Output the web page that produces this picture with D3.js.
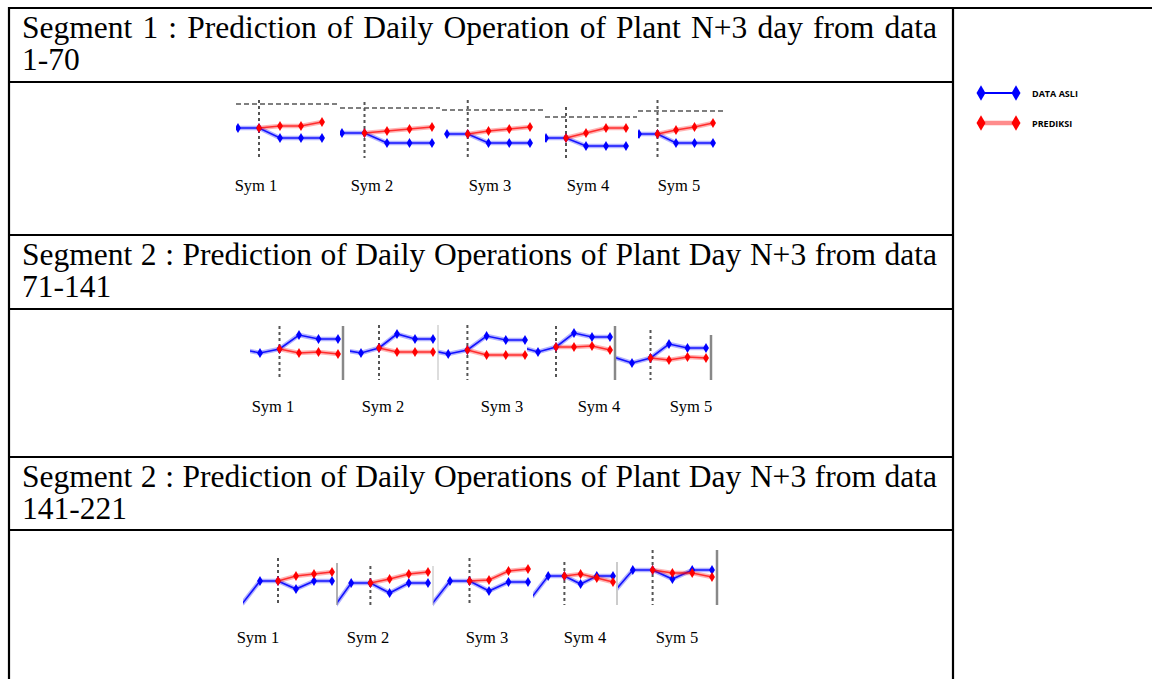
<!DOCTYPE html>
<html>
<head>
<meta charset="utf-8">
<script src="https://cdn.jsdelivr.net/npm/d3@7"></script>
<style>
  body { margin: 0; background: #fff; }
  svg { display: block; }
</style>
</head>
<body>
<div id="chart"></div>
<script>
// --- data ---
var segTitles = [
    "Segment 1 : Prediction of Daily Operation of Plant N+3 day from data",
    "Segment 2 : Prediction of Daily Operations of Plant Day N+3 from data",
    "Segment 2 : Prediction of Daily Operations of Plant Day N+3 from data"
]
var segRanges = ["1-70", "71-141", "141-221"]
var symLabels = ["Sym 1", "Sym 2", "Sym 3", "Sym 4", "Sym 5"]
var legendLabels = ["DATA ASLI", "PREDIKSI"]

// segment 1 : 5 points, prediction starts at index 1
var seg1Asli = [
    [16, 16, 6, 6, 6],
    [15, 15, 5, 5, 5],
    [16, 16, 7, 7, 7],
    [19, 19, 11, 11, 11],
    [17, 17, 8, 8, 8]
]
var seg1Prediksi = [
    [16, 18, 18, 22],
    [15, 17, 19, 21],
    [16, 19, 21, 23],
    [19, 24, 29, 29],
    [17, 21, 24, 28]
]
var seg1Batas = [40, 40, 40, 40, 40]

// segment 2 : 6 points (first one cut off), prediction starts at index 2
var seg2Asli = [
    [31, 27, 31, 45, 41, 41],
    [30, 27, 32, 46, 41, 41],
    [30, 26, 30, 44, 40, 40],
    [33, 28, 33, 47, 43, 43],
    [23, 17, 22, 36, 32, 32]
]
var seg2Prediksi = [
    [31, 27, 28, 26],
    [32, 28, 28, 28],
    [30, 25, 25, 25],
    [33, 33, 34, 30],
    [22, 20, 23, 22]
]

// segment 3
var seg3Asli = [
    [1, 24, 24, 16, 24, 24],
    [-5, 22, 22, 12, 22, 22],
    [-1, 24, 24, 14, 23, 23],
    [8, 29, 29, 21, 29, 29],
    [12, 35, 35, 26, 35, 35]
]
var seg3Prediksi = [
    [24, 29, 31, 33],
    [22, 26, 31, 33],
    [24, 25, 34, 36],
    [29, 31, 27, 23],
    [35, 32, 32, 28]
]

// --- layout ---
var width = 1152, height = 679
var colX = 953, leftX = 9
var titleX = 22, titleW = 915

var rows = [
    {top: 8, titleBottom: 82, bodyBottom: 235},
    {top: 235, titleBottom: 309, bodyBottom: 457},
    {top: 457, titleBottom: 530, bodyBottom: 700}
]

// per panel: x of first / last index, base y (value 0), clip left, dashed top
var panels = [
    {
        base: [144, 148, 150, 157, 151],
        xr: [[238, 322], [342, 432], [447, 530], [546, 626], [639, 713]],
        clip: [236, 340, 442, 545, 638],
        right: [337, 440, 543, 637, 725],
        vTop: [100, 102, 100, 107, 100], vBottom: 158,
        start: 1,
        labelX: [256, 372, 490, 588, 679], labelY: 191
    },
    {
        base: [380, 380, 380, 380, 380],
        xr: [[240.5, 338], [343, 433], [429, 525], [520, 610], [613.5, 706]],
        clip: [250, 350, 438, 527, 616],
        vTop: [326, 325, 325, 326, 330], vBottom: 380,
        start: 2,
        seps: [[343, 326, 2.5, "#888"], [438, 325, 1, "#bbb"], [615, 326, 2.5, "#888"], [711, 335, 2.5, "#888"]],
        labelX: [273, 383, 502, 599, 691], labelY: 412
    },
    {
        base: [605, 605, 605, 605, 605],
        xr: [[242, 332], [332, 428], [430.5, 528], [532, 613], [613, 712]],
        clip: [243, 337, 433, 533, 618],
        vTop: [558, 566, 558, 562, 550], vBottom: 605,
        start: 2,
        seps: [[337, 563, 1.5, "#999"], [433, 566, 1, "#bbb"], [617, 562, 1, "#999"], [717, 550, 2.5, "#888"]],
        labelX: [258, 368, 487, 585, 677], labelY: 643
    }
]

var asli = [seg1Asli, seg2Asli, seg3Asli]
var prediksi = [seg1Prediksi, seg2Prediksi, seg3Prediksi]

var blue = "#0000ff", red = "#ff0000"

var svg = d3.select("#chart").append("svg")
    .attr("width", width)
    .attr("height", height)

var defs = svg.append("defs")

// --- table ---
var grid = svg.append("g")
    .attr("stroke", "#000")
    .attr("stroke-width", 2.2)

grid.append("line").attr("x1", leftX - 1).attr("x2", width).attr("y1", 8).attr("y2", 8)
grid.append("line").attr("x1", leftX).attr("x2", leftX).attr("y1", 7).attr("y2", height)
grid.append("line").attr("x1", colX).attr("x2", colX).attr("y1", 7).attr("y2", height)

rows.forEach(function(r, i) {
    grid.append("line").attr("x1", leftX).attr("x2", colX).attr("y1", r.titleBottom).attr("y2", r.titleBottom)
    if (i < 2) grid.append("line").attr("x1", leftX).attr("x2", colX).attr("y1", r.bodyBottom).attr("y2", r.bodyBottom)

    // first line is justified to the cell width, by widening the word gaps
    var t1 = svg.append("text")
        .attr("x", titleX).attr("y", r.top + 30)
        .attr("font-family", "'Liberation Serif', 'Times New Roman', serif")
        .attr("font-size", 31.5)
        .text(segTitles[i])
    var gaps = segTitles[i].split(" ").length - 1
    var extra = (titleW - t1.node().getComputedTextLength()) / gaps
    t1.attr("word-spacing", extra)

    svg.append("text")
        .attr("x", titleX).attr("y", r.top + 62)
        .attr("font-family", "'Liberation Serif', 'Times New Roman', serif")
        .attr("font-size", 31.5)
        .text(segRanges[i])
})

function diamond(g, x, y, color, size) {
    g.append("path")
        .attr("d", d3.symbol().type(d3.symbolDiamond).size(size || 30))
        .attr("transform", "translate(" + x + "," + y + ")")
        .attr("fill", color)
}

function drawSeries(g, values, offset, x, y, color, cutFirst) {
    var line = d3.line()
        .x(function(d, i) { return x(i + offset) })
        .y(function(d) { return y(d) })

    g.append("path")
        .datum(values)
        .attr("d", line)
        .attr("fill", "none")
        .attr("stroke", color)
        .attr("stroke-opacity", 0.3)
        .attr("stroke-width", 4.5)
    g.append("path")
        .datum(values)
        .attr("d", line)
        .attr("fill", "none")
        .attr("stroke", color)
        .attr("stroke-opacity", color == red ? 0.75 : 0.9)
        .attr("stroke-width", 1.6)

    values.forEach(function(v, i) {
        if (cutFirst && i == 0 && offset == 0) return
        diamond(g, x(i + offset), y(v), color)
    })
}

panels.forEach(function(p, s) {
    var seg = svg.append("g")

    for (var k = 0; k < 5; k++) {
        var a = asli[s][k], pr = prediksi[s][k]
        var x = d3.scaleLinear().domain([0, a.length - 1]).range(p.xr[k])
        var y = d3.scaleLinear().domain([0, 40]).range([p.base[k], p.base[k] - 40])

        var clipId = "clip-" + s + "-" + k
        defs.append("clipPath").attr("id", clipId)
            .append("rect")
            .attr("x", p.clip[k]).attr("y", 0)
            .attr("width", 200).attr("height", height)

        var g = seg.append("g").attr("clip-path", "url(#" + clipId + ")")

        // upper dashed reference line (segment 1 only)
        if (s == 0) {
            g.append("line")
                .attr("x1", p.clip[k]).attr("x2", p.right[k])
                .attr("y1", y(seg1Batas[k])).attr("y2", y(seg1Batas[k]))
                .attr("stroke", "#555")
                .attr("stroke-width", 1.6)
                .attr("stroke-dasharray", "5,3")
        }

        // prediction start marker
        g.append("line")
            .attr("x1", x(p.start)).attr("x2", x(p.start))
            .attr("y1", p.vTop[k]).attr("y2", p.vBottom)
            .attr("stroke", "#555")
            .attr("stroke-width", 2)
            .attr("stroke-dasharray", "3,3")

        drawSeries(g, a, 0, x, y, blue, s > 0)
        drawSeries(g, pr, p.start, x, y, red, false)

        seg.append("text")
            .attr("x", p.labelX[k])
            .attr("y", p.labelY)
            .attr("text-anchor", "middle")
            .attr("font-family", "'Liberation Serif', 'Times New Roman', serif")
            .attr("font-size", 16.5)
            .text(symLabels[k])
    }

    if (p.seps) {
        p.seps.forEach(function(d) {
            seg.append("line")
                .attr("x1", d[0]).attr("x2", d[0])
                .attr("y1", d[1]).attr("y2", p.vBottom)
                .attr("stroke", d[3])
                .attr("stroke-width", d[2])
        })
    }
})

// --- legend ---
var legend = svg.append("g")
var legendColors = [blue, red]
legendLabels.forEach(function(name, i) {
    var ly = 93 + i * 30
    var c = legendColors[i]
    legend.append("line")
        .attr("x1", 981).attr("x2", 1016)
        .attr("y1", ly).attr("y2", ly)
        .attr("stroke", c)
        .attr("stroke-opacity", i == 1 ? 0.45 : 1)
        .attr("stroke-width", i == 1 ? 4.5 : 2.2)
    diamond(legend, 981, ly, c, 70)
    diamond(legend, 1016, ly, c, 70)
    legend.append("text")
        .attr("x", 1032).attr("y", ly + 3.5)
        .attr("font-family", "'Open Sans', 'Noto Sans', sans-serif")
        .attr("font-weight", "bold")
        .attr("font-size", 9)
        .text(name)
})
</script>
</body>
</html>
